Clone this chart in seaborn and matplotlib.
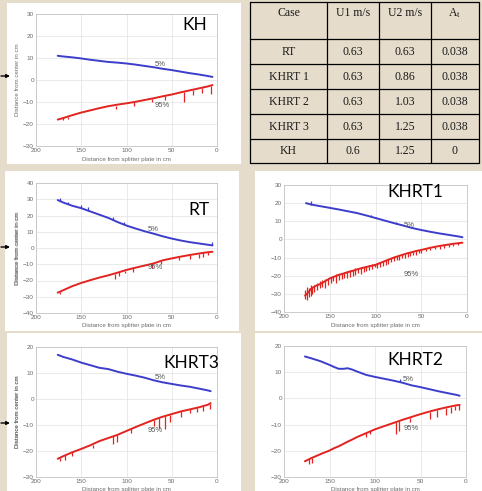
import numpy as np
import pandas as pd
import matplotlib
matplotlib.use('Agg')
import matplotlib.pyplot as plt
import seaborn as sns
from matplotlib.patches import Rectangle

sns.set_theme(style='white')
plt.rcParams['font.family'] = ['Liberation Sans', 'DejaVu Sans']
plt.rcParams['mathtext.fontset'] = 'stix'

W, H = 482, 491
BG = '#e6dccb'
BLUE = '#3d3dcc'
RED = '#e2231f'
GREY = '#6b6b6b'

# ---------------- table data ----------------
table_header = ['Case', 'U1 m/s', 'U2 m/s', 'A$_\\mathrm{t}$']
table_cases = ['RT', 'KHRT 1', 'KHRT 2', 'KHRT 3', 'KH']
table_u1 = ['0.63', '0.63', '0.63', '0.63', '0.6']
table_u2 = ['0.63', '0.86', '1.03', '1.25', '1.25']
table_at = ['0.038', '0.038', '0.038', '0.038', '0']

# ---------------- KH ----------------
kh_x = [176, 170, 160, 150, 140, 130, 120, 110, 100, 90, 80, 70, 60, 50, 40, 30, 20, 10, 5]
kh_blue = [11, 10.7, 10.3, 9.8, 9.2, 8.7, 8.2, 7.9, 7.5, 7.0, 6.4, 5.8, 5.1, 4.5, 3.8, 3.1, 2.5, 1.8, 1.4]
kh_red = [-18, -17.3, -16, -14.8, -13.8, -12.8, -11.9, -11.2, -10.6, -9.9, -9.1, -8.3, -7.4, -6.6, -5.6, -4.7, -3.8, -2.9, -2.3]
kh_sp_x = [170, 165, 112, 92, 72, 57, 37, 27, 17, 7]
kh_sp_top = [-17.2, -16.6, -11.6, -9.9, -8.5, -7.2, -5.3, -4.4, -3.5, -2.5]
kh_sp_bot = [-18.4, -17.8, -13.2, -12, -10, -9.3, -9.8, -6.8, -5.8, -6.5]

# ---------------- RT ----------------
rt_x = [176, 170, 160, 150, 140, 130, 120, 110, 100, 90, 80, 70, 60, 50, 40, 30, 20, 10, 5]
rt_blue = [29.5, 28, 26, 24.5, 22.5, 20.5, 18.5, 16, 13.8, 12, 10.3, 8.8, 7.2, 5.8, 4.6, 3.6, 2.8, 2.0, 1.6]
rt_red = [-27.5, -26, -23.5, -21.5, -19.8, -18.2, -16.8, -15.2, -13.5, -12.1, -10.8, -9.5, -7.6, -6.4, -5.3, -4.3, -3.4, -2.6, -2.3]
rt_bsp_x = [173, 165, 150, 142, 115, 103, 5]
rt_bsp_top = [29, 27, 24.5, 23, 17.2, 14.5, 1.6]
rt_bsp_bot = [31, 28.5, 26.5, 25, 19, 16, 3.5]
rt_sp_x = [173, 113, 108, 102, 93, 72, 62, 42, 30, 20, 15, 10]
rt_sp_top = [-27, -15.7, -15, -14, -12.5, -9.8, -8.2, -5.6, -4.3, -3.4, -3, -2.6]
rt_sp_bot = [-28.5, -19, -17.5, -15.5, -15, -12, -10, -7.5, -6.5, -6, -5.5, -4.5]

# ---------------- KHRT1 ----------------
k1_bx = [176, 170, 160, 150, 140, 130, 120, 110, 100, 90, 80, 70, 60, 50, 40, 30, 20, 10, 5]
k1_blue = [20, 19.2, 18.3, 17.4, 16.5, 15.5, 14.5, 13.2, 11.8, 10.4, 9.0, 7.7, 6.3, 5.2, 4.2, 3.3, 2.5, 1.7, 1.2]
k1_bsp_x = [170, 105, 100, 78]
k1_bsp_top = [19.2, 12.4, 11.8, 8.5]
k1_bsp_bot = [21, 13.3, 12.6, 9.5]
k1_rx = [177, 175, 170, 165, 160, 155, 150, 145, 140, 135, 130, 125, 120, 115, 110, 105, 100,
         95, 90, 85, 80, 75, 70, 65, 60, 55, 50, 45, 40, 35, 30, 25, 20, 15, 10, 5]
k1_red = [-31, -30, -27, -25.5, -24.5, -23, -21.5, -20.5, -19.5, -18.8, -18, -17.3, -16.5, -15.8,
          -15.2, -14.6, -14, -13, -12, -11, -10, -9.2, -8.4, -7.6, -7, -6.3, -5.8, -5.2, -4.6,
          -4.1, -3.6, -3.2, -2.8, -2.4, -2.1, -1.8]
k1_sp_x = [177, 175, 173, 171, 169, 167, 164, 161, 158, 155, 152, 149, 146, 143, 140, 137, 134,
           131, 128, 125, 122, 119, 116, 113, 110, 107, 104, 101, 98, 95, 92, 89, 86, 83, 80,
           77, 74, 71, 68, 65, 62, 59, 56, 53, 50, 45, 40, 35, 30, 25, 20, 15, 10]
k1_sp_top = [-28, -26, -27, -25, -26, -25, -24, -23, -22.5, -22, -21, -20.5, -20, -19, -19, -18.3,
             -18, -17.5, -17, -16.8, -16, -15.8, -15.2, -15, -14.7, -14.2, -13.5, -13.5, -13,
             -12.5, -12, -11.3, -10.8, -10.3, -9.8, -9.3, -9, -8.3, -8, -7.5, -7.2, -6.8, -6.3,
             -6, -5.7, -5.1, -4.5, -4, -3.5, -3.1, -2.7, -2.3, -2]
k1_sp_bot = [-33, -33.5, -32, -31, -30, -29, -28, -27, -26, -26.5, -25, -24, -23, -24, -22.5, -22,
             -21.5, -21, -20.5, -20, -19.5, -18.5, -19, -18, -17.5, -17, -16.5, -15, -16, -15,
             -14.5, -14, -13.5, -12.5, -12, -11.5, -11.5, -10.5, -10, -9.5, -9, -8.5, -8.5,
             -7.5, -7.5, -6.5, -6, -5.5, -5, -4.5, -4, -3.5, -3]

# ---------------- KHRT3 ----------------
k3_x = [176, 170, 160, 150, 140, 130, 120, 110, 100, 90, 80, 70, 60, 50, 40, 30, 20, 10, 7]
k3_blue = [17, 16.2, 15.2, 14.0, 13, 12, 11.5, 10.5, 9.7, 9, 8.2, 7.2, 6.4, 5.8, 5.2, 4.7, 4, 3.3, 3]
k3_red = [-23, -22, -20.5, -19.2, -17.8, -16.2, -15, -13.8, -12.3, -10.8, -9.4, -8, -6.8, -5.8, -4.8, -4, -3.2, -2.2, -1.6]
k3_sp_x = [173, 168, 160, 137, 115, 110, 95, 70, 64, 58, 52, 40, 30, 22, 15, 8]
k3_sp_top = [-22.5, -21.7, -20.5, -17.5, -14.4, -13.8, -11.5, -8, -7.3, -6.6, -6, -4.8, -4, -3.3, -2.7, -1.8]
k3_sp_bot = [-24, -23.5, -22, -19, -17.2, -16.5, -13, -10.5, -11, -11.5, -9, -7, -5.5, -5, -4.5, -4]

# ---------------- KHRT2 ----------------
k2_x = [177, 170, 160, 150, 145, 140, 135, 130, 125, 120, 110, 100, 90, 80, 70, 60, 50, 40, 30, 20, 10, 7]
k2_blue = [16, 15.3, 14.2, 12.8, 12, 11.3, 11.3, 11.5, 11, 10.3, 9, 8.2, 7.5, 6.8, 6, 5, 4.3, 3.5, 2.7, 2.0, 1.3, 1.0]
k2_red = [-24, -22.8, -21.3, -19.9, -19, -18.3, -17.4, -16.5, -15.7, -14.8, -13.3, -11.8, -10.6,
          -9.4, -8.2, -7.1, -6, -5, -4.1, -3.3, -2.6, -2.5]
k2_bsp_x = [73]
k2_bsp_top = [6.3]
k2_bsp_bot = [7.5]
k2_sp_x = [172, 169, 110, 105, 77, 74, 62, 40, 32, 22, 17, 12, 8]
k2_sp_top = [-23, -22.6, -13.3, -12.5, -9, -8.7, -7.3, -5, -4.3, -3.5, -3.1, -2.8, -2.5]
k2_sp_bot = [-25, -24.5, -14.8, -13.5, -13.5, -12.5, -9, -8, -7, -6.5, -5.5, -4.5, -4.5]

fig = plt.figure(figsize=(W / 100, H / 100), dpi=100)
fig.patch.set_facecolor(BG)


def frac(x0, y0, x1, y1):
    return [x0 / W, 1 - y1 / H, (x1 - x0) / W, (y1 - y0) / H]


# white panels
for (x0, y0, x1, y1) in [(7, 3, 241, 164), (5, 171, 239, 331), (255, 171, 482, 331),
                         (7, 333, 241, 491), (255, 333, 482, 491)]:
    fig.add_artist(Rectangle((x0 / W, 1 - y1 / H), (x1 - x0) / W, (y1 - y0) / H,
                             transform=fig.transFigure, facecolor='white',
                             edgecolor='none', zorder=-5))


def panel(box, bx, by, rx, ry, rsp, bsp, ylim, lab5, lab95):
    x0, y0, x1, y1 = box
    ax = fig.add_axes(frac(*box))
    ax.set_facecolor('white')
    df = pd.concat([pd.DataFrame({'x': bx, 'y': by, 's': '5%'}),
                    pd.DataFrame({'x': rx, 'y': ry, 's': '95%'})], ignore_index=True)
    sns.lineplot(data=df, x='x', y='y', hue='s', palette={'5%': BLUE, '95%': RED},
                 estimator=None, sort=False, legend=False, ax=ax, lw=1.4)
    if rsp is not None:
        ax.vlines(rsp[0], rsp[1], rsp[2], color=RED, lw=0.9)
    if bsp is not None:
        ax.vlines(bsp[0], bsp[1], bsp[2], color=BLUE, lw=0.9)
    ax.set_xlim(200, 0)
    ax.set_ylim(*ylim)
    ax.set_xticks([200, 150, 100, 50, 0])
    ax.set_yticks(np.arange(ylim[0], ylim[1] + 1, 10))
    ax.grid(True, color='#e2e2e2', lw=0.5)
    for s in ax.spines.values():
        s.set_color('#c4c4c4')
        s.set_linewidth(0.6)
    ax.tick_params(axis='both', direction='in', length=2, width=0.5, colors='#c4c4c4',
                   labelcolor=GREY, labelsize=4.6, pad=1.5)
    ax.set_xlabel('Distance from splitter plate in cm', fontsize=4.4, color=GREY)
    ax.set_ylabel('Distance from center in cm', fontsize=4.4, color=GREY)
    ax.xaxis.set_label_coords(0.5, -10.5 / (y1 - y0))
    ax.yaxis.set_label_coords((20 - x0) / (x1 - x0), 0.5)
    ax.text(lab5[0], lab5[1], '5%', fontsize=5.5, color='#555555', ha='left', va='center')
    ax.text(lab95[0], lab95[1], '95%', fontsize=5.5, color='#555555', ha='left', va='center')
    return ax


panel((36, 14, 217, 146), kh_x, kh_blue, kh_x, kh_red, (kh_sp_x, kh_sp_top, kh_sp_bot), None,
      (-30, 30), (69, 7.2), (69, -11.5))
panel((36, 183, 217, 313), rt_x, rt_blue, rt_x, rt_red, (rt_sp_x, rt_sp_top, rt_sp_bot),
      (rt_bsp_x, rt_bsp_top, rt_bsp_bot), (-40, 40), (77, 11.5), (77, -12.3))
panel((284, 185, 467, 312), k1_bx, k1_blue, k1_rx, k1_red, (k1_sp_x, k1_sp_top, k1_sp_bot),
      (k1_bsp_x, k1_bsp_top, k1_bsp_bot), (-40, 30), (69, 7.7), (69, -19.5))
panel((36, 347, 217, 477), k3_x, k3_blue, k3_x, k3_red, (k3_sp_x, k3_sp_top, k3_sp_bot), None,
      (-30, 20), (69, 8.1), (77, -12.2))
panel((284, 346, 466, 477), k2_x, k2_blue, k2_x, k2_red, (k2_sp_x, k2_sp_top, k2_sp_bot),
      (k2_bsp_x, k2_bsp_top, k2_bsp_bot), (-30, 20), (69, 7.2), (68, -11.3))

# overlay in pixel coordinates
ov = fig.add_axes([0, 0, 1, 1], zorder=10)
ov.set_xlim(0, W)
ov.set_ylim(H, 0)
ov.axis('off')
ov.patch.set_alpha(0)

# panel titles
for t, x, y in [('KH', 182, 30), ('RT', 188, 215), ('KHRT1', 387, 197),
                ('KHRT3', 163, 368), ('KHRT2', 387, 365)]:
    ov.text(x, y, t, fontsize=12.5, family=['Lato', 'DejaVu Sans'], color='black',
            ha='left', va='baseline')

# arrows
for y in [76, 247, 423]:
    ov.annotate('', xy=(10, y), xytext=(1, y),
                arrowprops=dict(arrowstyle='-|>', color='black', lw=1.0, mutation_scale=5,
                                shrinkA=0, shrinkB=0))

# table
col_x = [250, 327, 379, 431, 479]
row_y = [2, 39, 64, 89, 114, 139, 163]
for x in col_x:
    ov.plot([x, x], [row_y[0], row_y[-1]], color='black', lw=0.9)
for y in row_y:
    ov.plot([col_x[0], col_x[-1]], [y, y], color='black', lw=0.9)
tfont = dict(family=['Liberation Serif', 'DejaVu Serif'], fontsize=8.5, color='#1a1a1a',
             ha='center', va='center')
for j, h in enumerate(table_header):
    ov.text((col_x[j] + col_x[j + 1]) / 2, 13, h, **tfont)
cols = [table_cases, table_u1, table_u2, table_at]
for j, col in enumerate(cols):
    for i, v in enumerate(col):
        ov.text((col_x[j] + col_x[j + 1]) / 2, (row_y[i + 1] + row_y[i + 2]) / 2, v, **tfont)

fig.savefig('out.png', dpi=100, facecolor=BG)
